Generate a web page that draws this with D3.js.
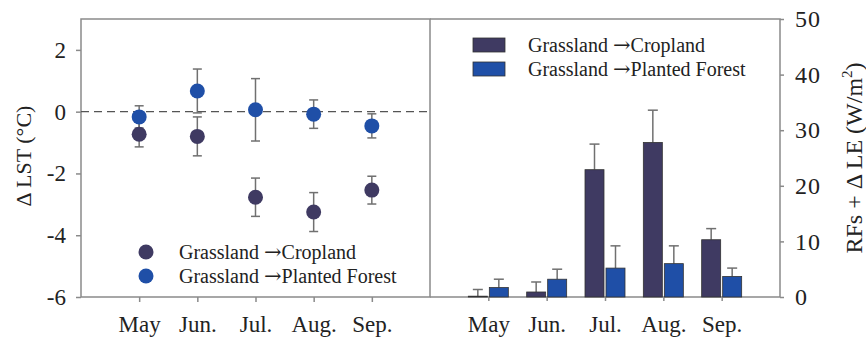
<!DOCTYPE html>
<html>
<head>
<meta charset="utf-8">
<script src="https://cdn.jsdelivr.net/npm/d3@7"></script>
<style>
  body { margin: 0; background: #fff; }
  text { font-family: "Liberation Serif", "Times New Roman", serif; fill: #222; }
</style>
</head>
<body>
<svg id="chart" width="866" height="342"></svg>
<script>
// data
var months = ["May", "Jun.", "Jul.", "Aug.", "Sep."];
var seriesFrom = "Grassland ";
var seriesTo = ["Cropland", "Planted Forest"];
var colors = ["#3f3a62", "#1f4fa7"];

// left panel: delta LST (°C), mean and +/- error
var lstCrop = [-0.73, -0.80, -2.77, -3.25, -2.54];
var lstCropErr = [0.41, 0.63, 0.62, 0.63, 0.45];
var lstForest = [-0.17, 0.67, 0.06, -0.08, -0.46];
var lstForestErr = [0.36, 0.71, 1.01, 0.46, 0.39];
var lstTicks = [2, 0, -2, -4, -6];

// right panel: RFs + delta LE (W/m2), value and upper error
var rfCrop = [0.15, 0.9, 22.9, 27.8, 10.3];
var rfCropErr = [1.2, 1.8, 4.6, 5.8, 2.0];
var rfForest = [1.7, 3.2, 5.2, 6.0, 3.7];
var rfForestErr = [1.5, 1.8, 4.0, 3.2, 1.5];
var rfTicks = [0, 10, 20, 30, 40, 50];

var svg = d3.select("#chart");
var top_y = 19, bottom_y = 297;
var left_x = 81, mid_x = 430, right_x = 780;
var frameColor = "#8a8a8a", errColor = "#707070";

function legendLabel(sel, s) {
  sel.append("tspan").text(seriesFrom);
  sel.append("tspan").attr("font-family", "DejaVu Serif").attr("font-size", 21).text("\u2192");
  sel.append("tspan").text(seriesTo[s]);
}

// ---------- left panel ----------
var x1 = d3.scalePoint().domain(months).range([left_x, mid_x]).padding(1);
var y1 = d3.scaleLinear().domain([-6, 3]).range([bottom_y, top_y]);

var gL = svg.append("g");

gL.append("rect")
  .attr("x", left_x).attr("y", top_y)
  .attr("width", mid_x - left_x).attr("height", bottom_y - top_y)
  .attr("fill", "none").attr("stroke", frameColor).attr("stroke-width", 1.5);

gL.append("line")
  .attr("x1", left_x).attr("x2", mid_x)
  .attr("y1", y1(0)).attr("y2", y1(0))
  .attr("stroke", "#555").attr("stroke-width", 1.2)
  .attr("stroke-dasharray", "8,5");

var yAxisL = d3.axisLeft(y1).tickValues(lstTicks).tickSize(5).tickPadding(10)
  .tickFormat(function(d) { return d < 0 ? "-" + Math.abs(d) : d; });
gL.append("g").attr("transform", "translate(" + left_x + ",0)").call(yAxisL)
  .call(function(g) {
    g.select(".domain").remove();
    g.selectAll(".tick line").attr("stroke", frameColor).attr("stroke-width", 1.5);
    g.selectAll(".tick text").attr("font-size", 23).attr("font-family", "Liberation Serif").attr("fill", "#222");
  });

var xAxisL = d3.axisBottom(x1).tickSize(5).tickPadding(14);
gL.append("g").attr("transform", "translate(0," + bottom_y + ")").call(xAxisL)
  .call(function(g) {
    g.select(".domain").remove();
    g.selectAll(".tick line").attr("stroke", frameColor).attr("stroke-width", 1.5);
    g.selectAll(".tick text").attr("font-size", 23).attr("font-family", "Liberation Serif").attr("fill", "#222");
  });

gL.append("text")
  .attr("transform", "translate(31,156) rotate(-90)")
  .attr("text-anchor", "middle")
  .attr("font-size", 22)
  .text("\u0394 LST (\u00B0C)");

function pointErrors(vals, errs) {
  var g = gL.append("g").attr("stroke", errColor).attr("stroke-width", 1.5);
  months.forEach(function(m, i) {
    var cx = x1(m), lo = y1(vals[i] - errs[i]), hi = y1(vals[i] + errs[i]);
    g.append("line").attr("x1", cx).attr("x2", cx).attr("y1", lo).attr("y2", hi);
    g.append("line").attr("x1", cx - 4.5).attr("x2", cx + 4.5).attr("y1", lo).attr("y2", lo);
    g.append("line").attr("x1", cx - 4.5).attr("x2", cx + 4.5).attr("y1", hi).attr("y2", hi);
  });
}
pointErrors(lstCrop, lstCropErr);
pointErrors(lstForest, lstForestErr);

[lstCrop, lstForest].forEach(function(vals, s) {
  gL.selectAll(".pt" + s)
    .data(vals)
    .enter().append("circle")
    .attr("cx", function(d, i) { return x1(months[i]); })
    .attr("cy", function(d) { return y1(d); })
    .attr("r", 7.5)
    .attr("fill", colors[s]);
});

seriesTo.forEach(function(name, s) {
  gL.append("circle").attr("cx", 146).attr("cy", 252 + s * 24).attr("r", 7.5).attr("fill", colors[s]);
  gL.append("text").attr("x", 179).attr("y", 259 + s * 24).attr("font-size", 20).call(legendLabel, s);
});

// ---------- right panel ----------
var x2 = d3.scalePoint().domain(months).range([mid_x, right_x]).padding(1);
var y2 = d3.scaleLinear().domain([0, 50]).range([bottom_y, top_y]);
var barW = 19;

var gR = svg.append("g");

gR.append("path")
  .attr("d", "M" + mid_x + "," + top_y + "H" + right_x + "V" + bottom_y + "H" + mid_x)
  .attr("fill", "none").attr("stroke", frameColor).attr("stroke-width", 1.5);

var yAxisR = d3.axisRight(y2).tickValues(rfTicks).tickSize(4).tickPadding(11);
gR.append("g").attr("transform", "translate(" + right_x + ",0)").call(yAxisR)
  .call(function(g) {
    g.select(".domain").remove();
    g.selectAll(".tick line").attr("stroke", frameColor).attr("stroke-width", 1.5);
    g.selectAll(".tick text").attr("font-size", 24).attr("font-family", "Liberation Serif").attr("fill", "#222")
      .attr("letter-spacing", 1);
  });

var xAxisR = d3.axisBottom(x2).tickSize(4).tickPadding(15);
gR.append("g").attr("transform", "translate(0," + bottom_y + ")").call(xAxisR)
  .call(function(g) {
    g.select(".domain").remove();
    g.selectAll(".tick line").attr("stroke", frameColor).attr("stroke-width", 1.5);
    g.selectAll(".tick text").attr("font-size", 23).attr("font-family", "Liberation Serif").attr("fill", "#222");
  });

var rTitle = gR.append("text")
  .attr("transform", "translate(862,158) rotate(-90)")
  .attr("text-anchor", "middle")
  .attr("font-size", 24);
rTitle.append("tspan").text("RFs + \u0394 LE (W/m");
rTitle.append("tspan").attr("font-size", 15).attr("dy", -10).text("2");
rTitle.append("tspan").attr("dy", 10).text(")");

[[rfCrop, rfCropErr], [rfForest, rfForestErr]].forEach(function(pair, s) {
  var vals = pair[0], errs = pair[1];
  var off = s === 0 ? -barW - 1 : 1;
  var ge = gR.append("g").attr("stroke", errColor).attr("stroke-width", 1.5);
  months.forEach(function(m, i) {
    var cx = x2(m) + off + barW / 2;
    var yt = y2(vals[i] + errs[i]);
    ge.append("line").attr("x1", cx).attr("x2", cx).attr("y1", y2(vals[i])).attr("y2", yt);
    ge.append("line").attr("x1", cx - 5).attr("x2", cx + 5).attr("y1", yt).attr("y2", yt);
  });
  gR.selectAll(".bar" + s)
    .data(vals)
    .enter().append("rect")
    .attr("x", function(d, i) { return x2(months[i]) + off; })
    .attr("y", function(d) { return y2(d); })
    .attr("width", barW)
    .attr("height", function(d) { return bottom_y - y2(d); })
    .attr("fill", colors[s])
    .attr("stroke", "#333").attr("stroke-width", 0.8);
});

seriesTo.forEach(function(name, s) {
  gR.append("rect").attr("x", 473).attr("y", 38 + s * 24).attr("width", 32).attr("height", 14)
    .attr("fill", colors[s]).attr("stroke", "#333").attr("stroke-width", 0.8);
  gR.append("text").attr("x", 528).attr("y", 52 + s * 24).attr("font-size", 20).call(legendLabel, s);
});
</script>
</body>
</html>
